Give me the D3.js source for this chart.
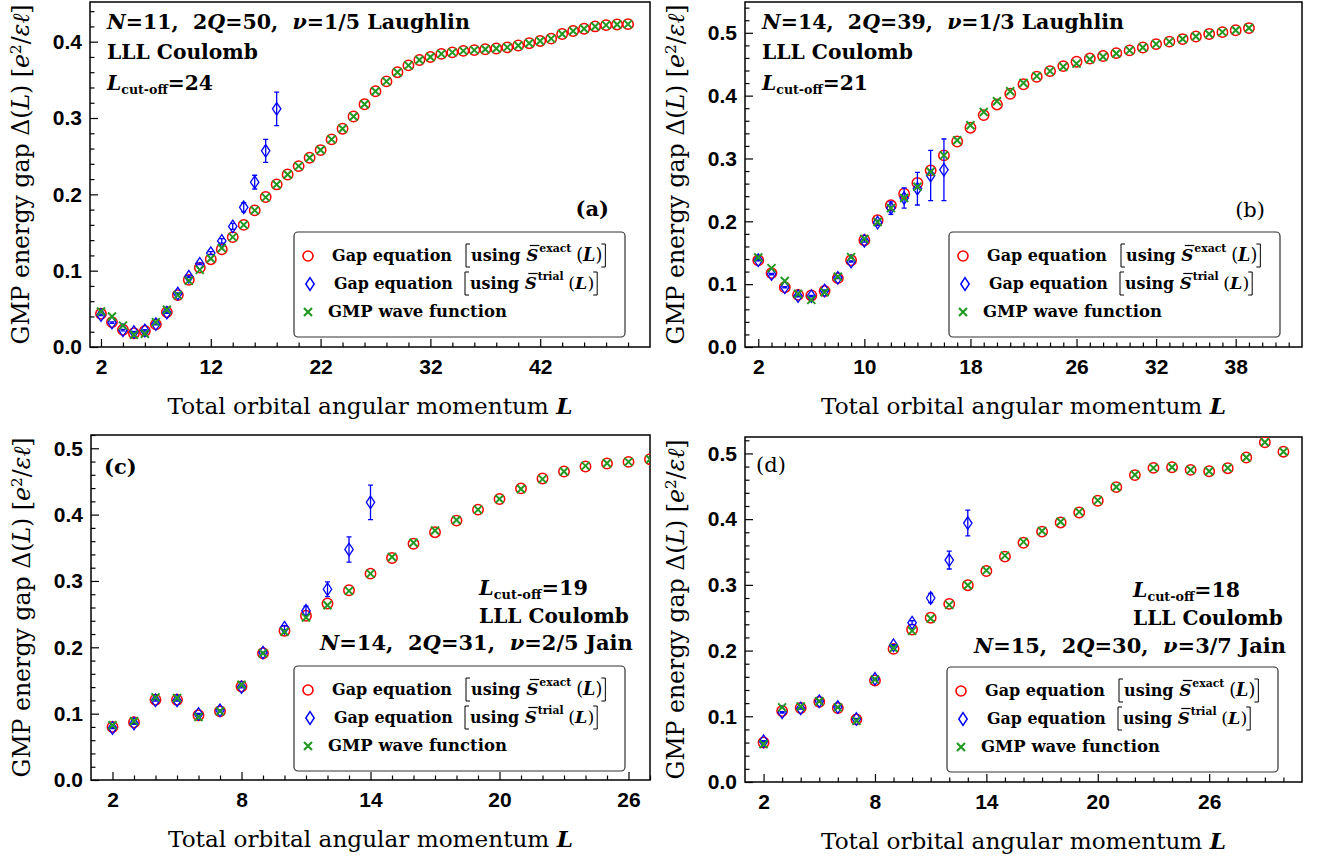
<!DOCTYPE html>
<html><head><meta charset="utf-8">
<script src="https://cdn.jsdelivr.net/npm/d3@7"></script>
<style>body{margin:0;background:#fff}svg{display:block}</style>
</head><body>
<svg id="c" width="1324" height="856"></svg>
<script>
// ---------------- DATA ----------------
const a_L = [2,3,4,5,6,7,8,9,10,11,12,13,14,15,16,17,18,19,20,21,22,23,24,25,26,27,28,29,30,31,32,33,34,35,36,37,38,39,40,41,42,43,44,45,46,47,48,49,50];
const a_exact = [0.0435,0.0326,0.0226,0.018,0.021,0.0296,0.0457,0.068,0.088,0.104,0.115,0.128,0.144,0.160,0.179,0.1965,0.213,0.226,0.237,0.248,0.258,0.272,0.286,0.302,0.318,0.335,0.348,0.360,0.369,0.376,0.380,0.384,0.386,0.388,0.389,0.390,0.391,0.3926,0.395,0.398,0.401,0.404,0.410,0.414,0.417,0.420,0.4217,0.4226,0.423];
const a_gmp = [0.0465,0.040,0.028,0.016,0.0174,0.0326,0.0487,0.068,0.087,0.101,0.116,0.1296,0.144,0.160,0.179,0.196,0.213,0.226,0.237,0.248,0.258,0.272,0.286,0.302,0.318,0.335,0.348,0.360,0.369,0.376,0.380,0.384,0.386,0.388,0.389,0.390,0.391,0.3926,0.395,0.398,0.401,0.404,0.410,0.414,0.417,0.420,0.4217,0.4226,0.423];
const a_trialL = [2,3,4,5,6,7,8,9,10,11,12,13,14,15,16,17,18];
const a_trial = [0.042,0.032,0.022,0.0196,0.0217,0.030,0.045,0.070,0.092,0.109,0.123,0.139,0.158,0.183,0.216,0.257,0.312];
const a_err = [0.001,0.001,0.001,0.001,0.001,0.001,0.001,0.001,0.001,0.001,0.002,0.003,0.004,0.006,0.009,0.015,0.022];

const b_L = [2,3,4,5,6,7,8,9,10,11,12,13,14,15,16,17,18,19,20,21,22,23,24,25,26,27,28,29,30,31,32,33,34,35,36,37,38,39];
const b_exact = [0.138,0.1176,0.095,0.083,0.082,0.089,0.1096,0.138,0.170,0.2016,0.2255,0.244,0.261,0.281,0.305,0.327,0.349,0.369,0.386,0.403,0.418,0.430,0.439,0.447,0.454,0.459,0.463,0.4676,0.472,0.4766,0.482,0.486,0.490,0.494,0.498,0.501,0.504,0.5075];
const b_gmp = [0.1425,0.1255,0.105,0.0846,0.075,0.087,0.112,0.143,0.172,0.199,0.221,0.237,0.255,0.279,0.305,0.329,0.353,0.374,0.391,0.407,0.420,0.431,0.439,0.446,0.451,0.458,0.462,0.467,0.472,0.4766,0.482,0.486,0.490,0.494,0.498,0.501,0.504,0.5075];
const b_trialL = [2,3,4,5,6,7,8,9,10,11,12,13,14,15,16];
const b_trial = [0.138,0.116,0.095,0.081,0.081,0.090,0.110,0.136,0.169,0.198,0.221,0.237,0.252,0.273,0.282];
const b_err = [0.001,0.001,0.001,0.001,0.001,0.001,0.001,0.001,0.002,0.004,0.010,0.016,0.026,0.040,0.049];

const c_L = [2,3,4,5,6,7,8,9,10,11,12,13,14,15,16,17,18,19,20,21,22,23,24,25,26,27];
const c_exact = [0.080,0.087,0.121,0.121,0.0975,0.1035,0.141,0.191,0.225,0.2475,0.266,0.286,0.311,0.3345,0.356,0.3735,0.391,0.4075,0.4235,0.4395,0.4545,0.465,0.4725,0.477,0.4795,0.4835];
const c_gmp = [0.0825,0.0885,0.1245,0.1235,0.095,0.1035,0.1435,0.191,0.2235,0.245,0.2635,0.285,0.311,0.336,0.3575,0.376,0.392,0.4075,0.4235,0.4385,0.4535,0.465,0.4735,0.4775,0.4795,0.4835];
const c_trialL = [2,3,4,5,6,7,8,9,10,11,12,13,14];
const c_trial = [0.0785,0.085,0.120,0.120,0.0995,0.105,0.140,0.192,0.2295,0.255,0.2875,0.3475,0.4185];
const c_err = [0.001,0.001,0.001,0.001,0.001,0.001,0.001,0.001,0.003,0.007,0.011,0.019,0.026];

const d_L = [2,3,4,5,6,7,8,9,10,11,12,13,14,15,16,17,18,19,20,21,22,23,24,25,26,27,28,29,30];
const d_exact = [0.060,0.108,0.1126,0.122,0.1126,0.0953,0.1545,0.2026,0.232,0.250,0.271,0.2995,0.321,0.343,0.364,0.381,0.395,0.410,0.428,0.4487,0.467,0.478,0.479,0.475,0.4728,0.4775,0.4937,0.517,0.5026];
const d_gmp = [0.0576,0.1136,0.115,0.123,0.1136,0.093,0.156,0.204,0.230,0.2487,0.2696,0.2995,0.322,0.3445,0.3654,0.382,0.396,0.411,0.4285,0.449,0.4675,0.478,0.479,0.475,0.4728,0.478,0.4937,0.517,0.5026];
const d_trialL = [2,3,4,5,6,7,8,9,10,11,12,13];
const d_trial = [0.062,0.106,0.112,0.123,0.114,0.0958,0.157,0.208,0.2424,0.280,0.3377,0.394];
const d_err = [0.001,0.001,0.001,0.001,0.001,0.001,0.001,0.001,0.003,0.007,0.0136,0.0196];

const a_xticks = [2,12,22,32,42];
const b_xticks = [2,10,18,26,32,38];
const c_xticks = [2,8,14,20,26];
const d_xticks = [2,8,14,20,26];
const a_yticks = [0.0,0.1,0.2,0.3,0.4];
const bcd_yticks = [0.0,0.1,0.2,0.3,0.4,0.5];

const xTitle = "Total orbital angular momentum ";
const legendLabels = ["Gap equation", "Gap equation", "GMP wave function"];
const legendSups = ["exact", "trial"];

// ---------------- STYLE / LAYOUT ----------------
const SERIF = "'DejaVu Serif','Liberation Serif',serif";
const SANS = "'Liberation Sans',Arial,sans-serif";
const RED = "#ff0000", BLUE = "#0000ff", GREEN = "#229922";
const svg = d3.select('#c');

function fitW(t, target){
  const w = t.node().getComputedTextLength();
  if (w > 0) { const fs = parseFloat(t.attr('font-size')); t.attr('font-size', (fs*target/w).toFixed(2)); }
  return t;
}
function addParts(t, parts){
  parts.forEach(p=>{
    const s = t.append('tspan').text(p.s);
    if (p.i) s.attr('font-style','italic');
    if (p.fs) s.attr('font-size', p.fs);
    if (p.dy) s.attr('dy', p.dy);
    if (p.w) s.attr('font-weight', p.w);
  });
  return t;
}
function eqParts(N, Q, nu, kind){
  return [{s:'N',i:1},{s:'='+N+',\u00a0\u00a02'},{s:'Q',i:1},{s:'='+Q+',\u00a0\u00a0'},{s:'\u03bd',i:1},{s:'='+nu+'\u00a0'+kind}];
}
function lcutParts(v){
  return [{s:'L',i:1},{s:'cut-off',fs:'0.62em',dy:'0.33em'},{s:'='+v,dy:'-0.2em'}];
}
function text(g, x, y, parts, width, opts={}){
  const t = g.append('text').attr('x',x).attr('y',y)
    .attr('font-family',SERIF).attr('font-size',opts.fs||20)
    .attr('font-weight',opts.weight||'bold').attr('fill','#000')
    .attr('text-anchor',opts.anchor||'start');
  addParts(t, parts);
  if (width) fitW(t, width);
  return t;
}

const panels = [
  {key:'a', lay:{x0:90,x1:650,y0:2,y1:347}, xdom:[1,52], ydom:[0,0.452],
   L:a_L, ex:a_exact, gmp:a_gmp, tL:a_trialL, tr:a_trial, er:a_err,
   xticks:a_xticks, xminor:d3.range(2,51,2), yticks:a_yticks,
   ann:[{x:107,y:29,p:eqParts(11,50,'1/5','Laughlin'),w:363},
        {x:107,y:59,p:[{s:'LLL Coulomb'}],w:151},
        {x:107,y:90,p:lcutParts(24),w:106}],
   tag:{x:609,y:216,s:'(a)',anchor:'end',weight:'bold'},
   leg:{x:294,y:232}},
  {key:'b', lay:{x0:745,x1:1302,y0:2,y1:347}, xdom:[1,43], ydom:[0,0.549],
   L:b_L, ex:b_exact, gmp:b_gmp, tL:b_trialL, tr:b_trial, er:b_err,
   xticks:b_xticks, xminor:d3.range(2,43,1), yticks:bcd_yticks,
   ann:[{x:762,y:29,p:eqParts(14,39,'1/3','Laughlin'),w:362},
        {x:762,y:59,p:[{s:'LLL Coulomb'}],w:151},
        {x:762,y:90,p:lcutParts(21),w:106}],
   tag:{x:1265,y:217,s:'(b)',anchor:'end',weight:'normal'},
   leg:{x:949,y:232}},
  {key:'c', lay:{x0:91,x1:650,y0:435,y1:780}, xdom:[1,27], ydom:[0,0.52],
   L:c_L, ex:c_exact, gmp:c_gmp, tL:c_trialL, tr:c_trial, er:c_err,
   xticks:c_xticks, xminor:d3.range(2,28,1), yticks:bcd_yticks,
   ann:[{x:479,y:595,p:lcutParts(19),w:109},
        {x:479,y:623,p:[{s:'LLL Coulomb'}],w:150},
        {x:320,y:650,p:eqParts(14,31,'2/5','Jain'),w:313}],
   tag:{x:104,y:474,s:'(c)',anchor:'start',weight:'bold'},
   leg:{x:294,y:666}},
  {key:'d', lay:{x0:745,x1:1302,y0:437,y1:782}, xdom:[1,31], ydom:[0,0.525],
   L:d_L, ex:d_exact, gmp:d_gmp, tL:d_trialL, tr:d_trial, er:d_err,
   xticks:d_xticks, xminor:d3.range(2,31,1), yticks:bcd_yticks,
   ann:[{x:1133,y:597,p:lcutParts(18),w:107},
        {x:1133,y:625,p:[{s:'LLL Coulomb'}],w:150},
        {x:974,y:653,p:eqParts(15,30,'3/7','Jain'),w:312}],
   tag:{x:756,y:472,s:'(d)',anchor:'start',weight:'normal'},
   leg:{x:947,y:667}}
];

const diamond = 'M0,-6.3L4.2,0L0,6.3L-4.2,0Z';
const cross = 'M-4,-4L4,4M-4,4L4,-4';

function drawLegend(g, bx, by){
  g.append('rect').attr('x',bx).attr('y',by).attr('width',331).attr('height',105)
    .attr('rx',4).attr('fill','#fff').attr('stroke','#333').attr('stroke-width',1.2);
  const rows = [by+24, by+52, by+80];
  g.append('circle').attr('cx',bx+14).attr('cy',rows[0]).attr('r',5).attr('fill','none').attr('stroke',RED).attr('stroke-width',1.6);
  g.append('path').attr('d',diamond).attr('transform',`translate(${bx+16},${rows[1]})`).attr('fill','none').attr('stroke',BLUE).attr('stroke-width',1.5);
  g.append('path').attr('d',cross).attr('transform',`translate(${bx+14},${rows[2]})`).attr('fill','none').attr('stroke',GREEN).attr('stroke-width',2.2);
  const spec = [{gx:38,gw:120,lb:172},{gx:40,gw:119,lb:171}];
  spec.forEach((s,i)=>{
    const rc = rows[i];
    const t1 = text(g, bx+s.gx, rc+4.5, [{s:legendLabels[i]}], s.gw, {fs:16});
    const F = parseFloat(t1.attr('font-size'));
    const lb = bx+s.lb;
    g.append('path').attr('d',`M${lb+4},${rc-12}H${lb}V${rc+11}H${lb+4}`).attr('fill','none').attr('stroke','#000').attr('stroke-width',1);
    let x = lb+5;
    const tu = text(g, x, rc+4.5, [{s:'using'}], null, {fs:F});
    x += tu.node().getComputedTextLength() + F*0.35;
    const tS = g.append('text').attr('x',x).attr('y',rc+4.5).attr('font-family',SERIF).attr('font-size',F*1.05)
      .attr('font-weight','bold').attr('font-style','italic').text('S');
    const sw = tS.node().getComputedTextLength();
    g.append('line').attr('x1',x+sw*0.3).attr('x2',x+sw+1).attr('y1',rc-10.5).attr('y2',rc-10.5).attr('stroke','#000').attr('stroke-width',1.2);
    x += sw + 1;
    const tsup = text(g, x, rc-4, [{s:legendSups[i]}], null, {fs:F*0.68});
    x += tsup.node().getComputedTextLength() + F*0.3;
    const tp = text(g, x, rc+4.5, [{s:'(',w:'normal'},{s:'L',i:1},{s:')',w:'normal'}], null, {fs:F*1.1});
    x += tp.node().getComputedTextLength() + 3;
    g.append('path').attr('d',`M${x-4},${rc-12}H${x}V${rc+11}H${x-4}`).attr('fill','none').attr('stroke','#000').attr('stroke-width',1);
  });
  text(g, bx+34, rows[2]+4.5, [{s:legendLabels[2]}], 179, {fs:16});
}

function drawPanel(p){
  const {x0,x1,y0,y1} = p.lay;
  const x = d3.scaleLinear().domain(p.xdom).range([x0,x1]);
  const y = d3.scaleLinear().domain(p.ydom).range([y1,y0]);
  const g = svg.append('g');
  const cid = 'clip-'+p.key;
  svg.append('defs').append('clipPath').attr('id',cid).append('rect')
    .attr('x',x0).attr('y',y0).attr('width',x1-x0).attr('height',y1-y0);

  const xa = g.append('g').attr('transform',`translate(0,${y1})`)
    .call(d3.axisBottom(x).tickValues(p.xticks).tickSize(-8).tickPadding(12).tickFormat(d3.format('d')));
  const xm = g.append('g').attr('transform',`translate(0,${y1})`)
    .call(d3.axisBottom(x).tickValues(p.xminor.filter(v=>!p.xticks.includes(v))).tickSize(-4.5).tickFormat(''));
  const ya = g.append('g').attr('transform',`translate(${x0},0)`)
    .call(d3.axisLeft(y).tickValues(p.yticks).tickSize(-8).tickPadding(8).tickFormat(d3.format('.1f')));
  const yminor = d3.range(0, p.ydom[1]+1e-9, 0.02).filter(v=>Math.abs(Math.round(v*10)-v*10)>1e-6);
  const ym = g.append('g').attr('transform',`translate(${x0},0)`)
    .call(d3.axisLeft(y).tickValues(yminor).tickSize(-4.5).tickFormat(''));
  [xa,xm,ya,ym].forEach(a=>{
    a.select('.domain').remove();
    a.selectAll('line').attr('stroke','#000').attr('stroke-width',1.2);
    a.selectAll('text').attr('font-family',SANS).attr('font-weight','bold').attr('font-size',21).attr('fill','#000');
  });

  g.append('rect').attr('x',x0).attr('y',y0).attr('width',x1-x0).attr('height',y1-y0)
    .attr('fill','none').attr('stroke','#000').attr('stroke-width',1.5);

  const cx = (x0+x1)/2, cy = (y0+y1)/2;
  const xt = g.append('text').attr('x',cx).attr('y',y1+67).attr('text-anchor','middle')
    .attr('font-family',SERIF).attr('font-size',20).attr('fill','#000');
  addParts(xt, [{s:xTitle},{s:'L',i:1,w:'bold'}]);
  fitW(xt, 405);
  const yt = g.append('text').attr('transform',`translate(${x0-61},${cy}) rotate(-90)`).attr('text-anchor','middle')
    .attr('font-family',SERIF).attr('font-size',20).attr('fill','#000');
  addParts(yt, [{s:'GMP energy gap \u0394('},{s:'L',i:1},{s:')\u00a0['},{s:'e',i:1},{s:'2',fs:'0.65em',dy:'-0.55em'},{s:'/',dy:'0.36em'},{s:'\u03b5\u2113',i:1},{s:']'}]);
  fitW(yt, 340);

  const dg = g.append('g').attr('clip-path',`url(#${cid})`);
  dg.selectAll('circle.ex').data(p.L.map((l,i)=>[l,p.ex[i]])).join('circle')
    .attr('cx',d=>x(d[0])).attr('cy',d=>y(d[1])).attr('r',5.2)
    .attr('fill','none').attr('stroke',RED).attr('stroke-width',1.5);
  const td = p.tL.map((l,i)=>[l,p.tr[i],p.er[i]]);
  dg.selectAll('path.eb').data(td).join('path')
    .attr('d',d=>`M${x(d[0])},${y(d[1]-d[2])}V${y(d[1]+d[2])}M${x(d[0])-2.5},${y(d[1]-d[2])}h5M${x(d[0])-2.5},${y(d[1]+d[2])}h5`)
    .attr('fill','none').attr('stroke',BLUE).attr('stroke-width',1.3);
  dg.selectAll('path.tr').data(td).join('path')
    .attr('d',diamond).attr('transform',d=>`translate(${x(d[0])},${y(d[1])})`)
    .attr('fill','none').attr('stroke',BLUE).attr('stroke-width',1.3);
  dg.selectAll('path.gm').data(p.L.map((l,i)=>[l,p.gmp[i]])).join('path')
    .attr('d',cross).attr('transform',d=>`translate(${x(d[0])},${y(d[1])})`)
    .attr('fill','none').attr('stroke',GREEN).attr('stroke-width',2);

  p.ann.forEach(a=>text(g, a.x, a.y, a.p, a.w));
  text(g, p.tag.x, p.tag.y, [{s:p.tag.s}], null, {fs:21, weight:p.tag.weight, anchor:p.tag.anchor});

  drawLegend(g, p.leg.x, p.leg.y);
}
panels.forEach(drawPanel);
</script>
</body></html>
